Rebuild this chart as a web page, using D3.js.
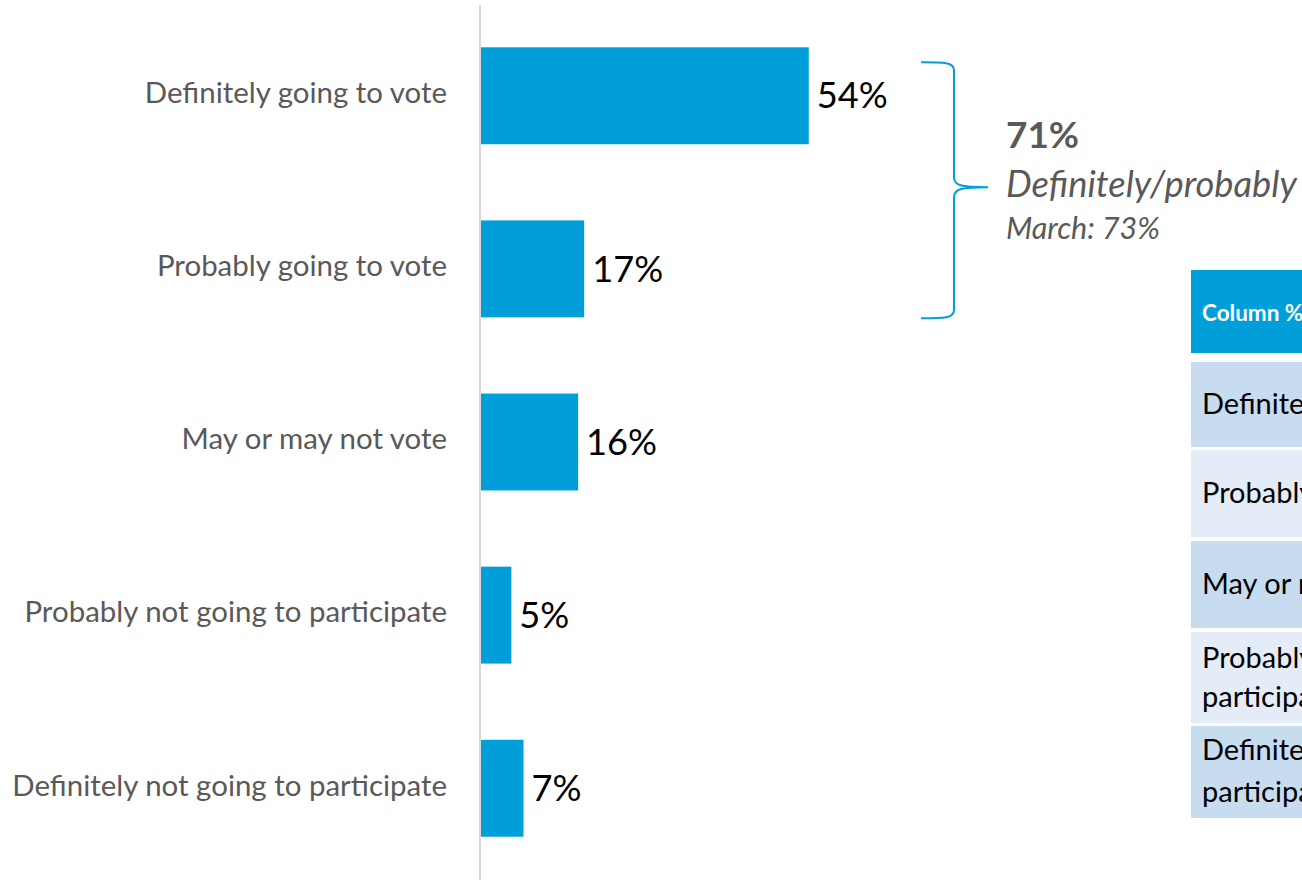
<!DOCTYPE html>
<html><head><meta charset="utf-8">
<script src="https://cdn.jsdelivr.net/npm/d3@7"></script>
<style>html,body{margin:0;padding:0;background:#fff;overflow:hidden}</style>
</head><body><svg id="c" width="1302" height="880"></svg>
<script>
const categories = ["Definitely going to vote","Probably going to vote","May or may not vote","Probably not going to participate","Definitely not going to participate"];
const values = [54,17,16,5,7];
const summaryValue = "71%";
const summaryLabel = "Definitely/probably";
const summaryPrev = "March: 73%";
const tableHeader = "Column %";
const tableRows = [["Definitely going to vote"],["Probably going to vote"],["May or may not vote"],["Probably not going to","participate"],["Definitely not going to","participate"]];

const FONT = "Lato,'Open Sans',sans-serif";
const BLUE = "#009fd9";
const svg = d3.select("#c");

function fit(sel, target){
  const fs = parseFloat(sel.attr("font-size"));
  const w = sel.node().getComputedTextLength();
  if (w>0) sel.attr("font-size", fs*target/w);
  return sel;
}

const x = d3.scaleLinear().domain([0,100]).range([481, 481+607]);
const y = d3.scaleBand().domain(categories).range([4,880]).paddingInner(0.44).paddingOuter(0.25);

svg.append("line").attr("x1",480).attr("x2",480).attr("y1",5).attr("y2",880)
  .attr("stroke","#d9d9d9").attr("stroke-width",2);

svg.selectAll("rect.bar").data(values).join("rect").attr("class","bar")
  .attr("x", x(0)).attr("y",(d,i)=>y(categories[i]))
  .attr("width", d=>x(d)-x(0)).attr("height", y.bandwidth()).attr("fill",BLUE);

const vals = svg.selectAll("text.val").data(values).join("text").attr("class","val")
  .attr("x", d=>x(d)+8).attr("y",(d,i)=>y(categories[i])+y.bandwidth()/2)
  .attr("dy","0.35em").attr("font-family",FONT).attr("font-size",36).attr("fill","#000")
  .text(d=>d+"%");
fit(d3.select(vals.nodes()[0]), 71);
vals.attr("font-size", d3.select(vals.nodes()[0]).attr("font-size"));

const cats = svg.selectAll("text.cat").data(categories).join("text").attr("class","cat")
  .attr("x", 447).attr("y", d=>y(d)+y.bandwidth()/2-3)
  .attr("dy","0.35em").attr("text-anchor","end").attr("font-family",FONT)
  .attr("font-size",26).attr("fill","#595959").text(d=>d);
fit(d3.select(cats.nodes()[4]), 435);
cats.attr("font-size", d3.select(cats.nodes()[4]).attr("font-size"));

// bracket
const bt = y(categories[0])+15, bb = y(categories[1])+y.bandwidth()+1, bm = (bt+bb)/2-3;
const bx0 = 921, bx1 = 954, bx2 = 988;
svg.append("path").attr("fill","none").attr("stroke",BLUE).attr("stroke-width",2)
  .attr("d", `M${bx0},${bt} C${bx1-10},${bt} ${bx1},${bt} ${bx1},${bt+8} L${bx1},${bm-10} C${bx1},${bm-2} ${bx1+6},${bm} ${bx2},${bm}
             M${bx0},${bb} C${bx1-10},${bb} ${bx1},${bb} ${bx1},${bb-8} L${bx1},${bm+10} C${bx1},${bm+2} ${bx1+6},${bm} ${bx2},${bm}`);

fit(svg.append("text").attr("x",1006).attr("y",148).attr("font-family",FONT).attr("font-weight","bold")
  .attr("font-size",32).attr("fill","#595959").text(summaryValue), 73);
fit(svg.append("text").attr("x",1006).attr("y",197).attr("font-family",FONT).attr("font-style","italic")
  .attr("font-size",30).attr("fill","#595959").text(summaryLabel), 291);
fit(svg.append("text").attr("x",1006).attr("y",239).attr("font-family",FONT).attr("font-style","italic")
  .attr("font-size",24).attr("fill","#595959").text(summaryPrev), 154);

// table
const tx = 1191;
svg.append("rect").attr("x",tx).attr("y",270).attr("width",200).attr("height",83).attr("fill",BLUE);
svg.append("text").attr("x",1202).attr("y",321).attr("font-family",FONT).attr("font-weight","bold")
  .attr("font-size",22.5).attr("fill","#fff").text(tableHeader);
const rowTops = [362,450,541,632,726];
const rowBots = [447,537,628,723,818];
const rowFill = ["#c8dcef","#e4ecf7","#c8dcef","#e4ecf7","#c8dcef"];
const twoLineBase = [[36,75],[34,76]];
let k = 0;
tableRows.forEach((r,i)=>{
  svg.append("rect").attr("x",tx).attr("y",rowTops[i]).attr("width",200).attr("height",rowBots[i]-rowTops[i]).attr("fill",rowFill[i]);
  const cy = (rowTops[i]+rowBots[i])/2;
  const t = svg.append("text").attr("x",1202).attr("font-family",FONT).attr("font-size",29).attr("fill","#000");
  if (r.length===1) t.attr("y",cy+9).text(r[0]);
  else {
    const b = twoLineBase[k++];
    t.append("tspan").attr("x",1202).attr("y",rowTops[i]+b[0]).text(r[0]);
    t.append("tspan").attr("x",1202).attr("y",rowTops[i]+b[1]).text(r[1]);
  }
});
</script></body></html>
